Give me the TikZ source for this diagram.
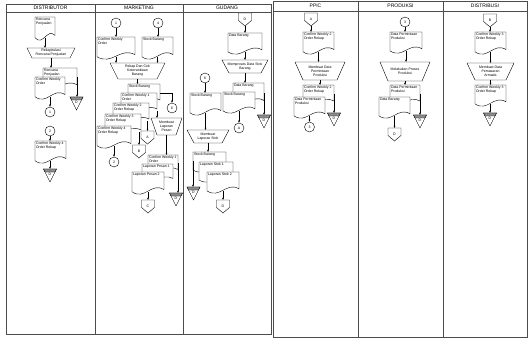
\documentclass[tikz,border=0pt]{standalone}
\usepackage{fontspec}
\setmainfont{Liberation Sans}
\usetikzlibrary{arrows.meta}
\newcommand{\tinyfont}{\fontsize{3.5}{4}\selectfont}
% document symbol: name, x, y (top left), w, h, text
\newcommand{\docu}[6]{%
  \path[shp] (#2,{#3+0.9*#5}) -- (#2,#3) -- ({#2+#4},#3) -- ({#2+#4},{#3+0.8*#5})
    .. controls ({#2+0.6*#4},{#3+0.45*#5}) and ({#2+0.4*#4},{#3+1.3*#5}) .. (#2,{#3+0.9*#5}) -- cycle;
  \pgfmathsetmacro\dochgt{0.9*#5}%
  \node[box, minimum width=#4pt, minimum height=\dochgt pt, anchor=north west] (#1) at (#2,#3) {};
  \node[lbl, anchor=north west] (#1t) at (#1.north west) {#6};
}
% manual operation: name, x1, x2, y1, y2, inset, text
\newcommand{\trap}[7]{%
  \path[shp] (#2,#4) -- (#3,#4) -- ({#3-#6},#5) -- ({#2+#6},#5) -- cycle;
  \pgfmathsetmacro\trw{#3-#2}\pgfmathsetmacro\trh{#5-#4}%
  \node[box, lbl, align=center, minimum width=\trw pt, minimum height=\trh pt] (#1) at ({(#2+#3)/2},{(#4+#5)/2}) {#7};
}
% off-page connector: name, xc, ytop, text
\newcommand{\offpg}[4]{%
  \path[shp] ({#2-6.5},#3) -- ({#2+6.5},#3) -- ({#2+6.5},{#3+7.5}) -- (#2,{#3+13}) -- ({#2-6.5},{#3+7.5}) -- cycle;
  \node[box, lbl, minimum width=13pt, minimum height=13pt, anchor=north] (#1) at (#2,#3) {#4};
}
% offline storage: name, xc, ytop
\newcommand{\store}[3]{%
  \path[shp] ({#2-6.5},#3) -- ({#2+6.5},#3) -- (#2,{#3+13}) -- cycle;
  \path[fill=black!45, draw=black, line width=0.4pt] ({#2-6.5},#3) -- ({#2+6.5},#3) -- ({#2+5},{#3+3}) -- ({#2-5},{#3+3}) -- cycle;
  \node[box, lbl, minimum width=13pt, minimum height=11pt, anchor=north] (#1) at (#2,#3) {D};
}
\begin{document}
\begin{tikzpicture}[x=1pt, y=-1pt, line width=0.4pt,
  lane/.style={draw=black!70, line width=0.8pt},
  shp/.style={draw=black, line width=0.4pt, fill=white},
  box/.style={inner sep=0pt, outer sep=0pt},
  lbl/.style={font=\tinyfont, inner sep=0.8pt, align=left},
  head/.style={font=\fontsize{5}{6}\selectfont, inner sep=0pt},
  conn/.style={circle, draw, fill=white, minimum size=10pt, inner sep=0pt, font=\tinyfont},
  arr/.style={-{Latex[length=2.2pt,width=2pt]}}]
\useasboundingbox (0,0) rectangle (529,339);

% swimlanes
\draw[lane] (6,4) rectangle (271,334);
\draw[lane] (6,12) -- (271,12);
\draw[lane] (95,4) -- (95,334);
\draw[lane] (183,4) -- (183,334);
\draw[lane] (273,1) rectangle (527,337);
\draw[lane] (273,11) -- (527,11);
\draw[lane] (358,1) -- (358,337);
\draw[lane] (443,1) -- (443,337);
\node[head] (hDist) at (50.5,8) {DISTRIBUTOR};
\node[head] (hMkt) at (139,8) {MARKETING};
\node[head] (hGud) at (227,8) {GUDANG};
\node[head] (hPpic) at (315.5,6) {PPIC};
\node[head] (hProd) at (400.5,6) {PRODUKSI};
\node[head] (hDsb) at (485,6) {DISTRIBUSI};

% distributor
\docu{dRen}{35}{17}{20}{23}{Rencana\\Penjualan}
\trap{dRek}{27}{75}{48}{58}{5}{Rekapitulasi\\Rencana Penjualan}
\docu{dRenB}{43}{68}{34}{21}{Rencana\\Penjualan}
\docu{dCwo}{35}{77}{30}{22}{Confirm Weekly\\Order}
\store{dSt1}{76.5}{97}
\node[conn] (dC1) at (50,112) {1};
\node[conn] (dC2) at (50,131) {2};
\docu{dCw4}{35}{141}{31}{22}{Confirm Weekly 4\\Order Rekap}
\store{dSt2}{50}{169}
\draw[arr] (dRen.south) -- (dRen.south |- dRek.north);
\draw[arr] (dRek.south) -- (dRek.south |- dRenB.north);
\draw[arr] (dRenB.east) -- (dRenB.east |- dSt1.north);
\draw[arr] (dCwo.south -| dC1) -- (dC1.north);
\draw[arr] (dC2.south) -- (dC2.south |- dCw4.north);
\draw[arr] (dCw4.south -| dSt2) -- (dSt2.north);

% marketing
\node[conn] (mC1) at (116,23) {1};
\node[conn] (mC4) at (158,23) {4};
\docu{mCwo}{97}{37}{38}{22}{Confirm Weekly\\Order}
\docu{mStk}{142}{37}{31}{22}{Stock Barang}
\trap{mRek}{110}{165}{63}{79}{8}{Rekap Dan Cek\\Ketersediaan\\Barang}
\draw[arr] (mC1.south) -- (mC1.south |- mCwo.north);
\draw[arr] (mC4.south) -- (mC4.south |- mStk.north);
\draw[arr] (mCwo.south) -- (mCwo.south |- mRek.north);
\draw[arr] (mStk.south) -- (mStk.south |- mRek.north);
\docu{mS1}{128}{84}{32}{20}{Stock Barang}
\docu{mS2}{121}{93}{36}{20}{Confirm Weekly 1\\Order}
\docu{mS3}{113}{103}{36}{20}{Confirm Weekly 2\\Order Rekap}
\docu{mS4}{105}{114}{36}{20}{Confirm Weekly 3\\Order Rekap}
\docu{mS5}{97}{126}{34}{22}{Confirm Weekly 4\\Order Rekap}
\node[conn] (mC6) at (172,108) {6};
\trap{mLap}{151}{182}{118}{135}{6}{Membuat\\Laporan\\Pesan}
\offpg{mA}{147.5}{131}{A}
\offpg{mB}{139}{145}{B}
\node[conn] (mC2) at (114,162) {2};
\draw[arr] (mRek.south) -- (mRek.south |- mS1.north);
\draw[arr] (mS1.east) -| (mC6.north);
\draw[arr] (mS2.south east) -- (mS2.south east |- mLap.north);
\draw[arr] (mS3.south -| mA) -- (mA.north);
\draw[arr] (mS4.south -| mB) -- (mB.north);
\draw[arr] (mS5.south -| mC2) -- (mC2.north);
\docu{mR1}{148}{155}{30}{18}{Confirm Weekly 1\\Order}
\docu{mR2}{142}{164}{31}{18}{Laporan Pesan 1}
\docu{mR3}{132}{172}{32}{22}{Laporan Pesan 2}
\store{mSt}{176}{193}
\offpg{mC}{148}{200}{C}
\draw[arr] (mLap.south) -- (mLap.south |- mR1.north);
\draw[arr] (mR1.east) -- (mR1.east |- mSt.north);
\draw[arr] (mR3.south -| mC) -- (mC.north);

% gudang
\offpg{gD1}{245}{13}{D}
\docu{gDat}{228}{33}{34}{21}{Data Barang}
\trap{gPro}{222}{268}{60}{73}{7}{Memproses Data Stok\\Barang}
\draw[arr] (gD1.south) -- (gD1.south |- gDat.north);
\draw[arr] (gDat.south) -- (gDat.south |- gPro.north);
\docu{gDat2}{233}{83}{31}{22}{Data Barang}
\docu{gStk2}{223}{92}{32}{21}{Stock Barang}
\node[conn] (gC6) at (205,78) {6};
\docu{gStk1}{190}{93}{31}{22}{Stock Barang}
\store{gSt1}{264}{115}
\node[conn] (gCA) at (239,128) {A};
\trap{gLap}{187}{229}{130}{143}{7}{Membuat\\Laporan Stok}
\draw[arr] (gPro.south) -- (gPro.south |- gDat2.north);
\draw[arr] (gDat2.east) -- (gDat2.east |- gSt1.north);
\draw[arr] (gC6.south) -- (gC6.south |- gStk1.north);
\draw[arr] (gStk2.south -| gCA) -- (gCA.north);
\draw[arr] (gStk1.south) -- (gStk1.south |- gLap.north);
\docu{gR1}{193}{152}{33}{20}{Stock Barang}
\docu{gR2}{199}{162}{34}{20}{Laporan Stok 1}
\docu{gR3}{207}{172}{32}{21}{Laporan Stok 2}
\store{gSt2}{193.5}{187}
\offpg{gD2}{223}{200}{D}
\draw[arr] (gLap.south) -- (gLap.south |- gR1.north);
\draw[arr] (gR1.west) -- (gR1.west |- gSt2.north);
\draw[arr] (gR3.south) -- (gR3.south |- gD2.north);

% ppic
\offpg{pA}{311}{13}{A}
\docu{pCw2}{303}{32}{31}{22}{Confirm Weekly 2\\Order Rekap}
\trap{pMem}{295}{345}{62}{80}{8}{Membuat Data\\Permintaan\\Produksi}
\docu{pCw2b}{303}{85}{31}{20}{Confirm Weekly 2\\Order Rekap}
\docu{pDpp}{294}{97}{31}{21}{Data Permintaan\\Produksi}
\store{pSt}{334}{113}
\node[conn] (pC3) at (309.5,127) {3};
\draw[arr] (pA.south) -- (pA.south |- pCw2.north);
\draw[arr] (pCw2.south) -- (pCw2.south |- pMem.north);
\draw[arr] (pMem.south) -- (pMem.south |- pCw2b.north);
\draw[arr] (pCw2b.east) -- (pCw2b.east |- pSt.north);
\draw[arr] (pDpp.south -| pC3) -- (pC3.north);

% produksi
\node[conn] (rC3) at (405,22) {3};
\docu{rDpp}{390}{32}{32}{21}{Data Permintaan\\Produksi}
\trap{rMel}{380}{430}{62}{81}{8}{Melakukan Proses\\Produksi}
\docu{rDpp2}{390}{85}{30}{20}{Data Permintaan\\Produksi}
\docu{rDat}{379}{97}{31}{21}{Data Barang}
\store{rSt}{420}{115}
\offpg{rD}{394.5}{128}{D}
\draw[arr] (rC3.south) -- (rC3.south |- rDpp.north);
\draw[arr] (rDpp.south) -- (rDpp.south |- rMel.north);
\draw[arr] (rMel.south) -- (rMel.south |- rDpp2.north);
\draw[arr] (rDpp2.east) -- (rDpp2.east |- rSt.north);
\draw[arr] (rDat.south -| rD) -- (rD.north);

% distribusi
\offpg{sB}{490}{14}{B}
\docu{sCw3}{475}{32}{31}{22}{Confirm Weekly 3\\Order Rekap}
\trap{sMem}{467}{514}{63}{80}{8}{Membuat Data\\Pemasaran\\Armada}
\docu{sCw3b}{475}{85}{31}{21}{Confirm Weekly 3\\Order Rekap}
\store{sSt}{490}{113}
\draw[arr] (sB.south) -- (sB.south |- sCw3.north);
\draw[arr] (sCw3.south) -- (sCw3.south |- sMem.north);
\draw[arr] (sMem.south) -- (sMem.south |- sCw3b.north);
\draw[arr] (sCw3b.south -| sSt) -- (sSt.north);
\end{tikzpicture}
\end{document}
